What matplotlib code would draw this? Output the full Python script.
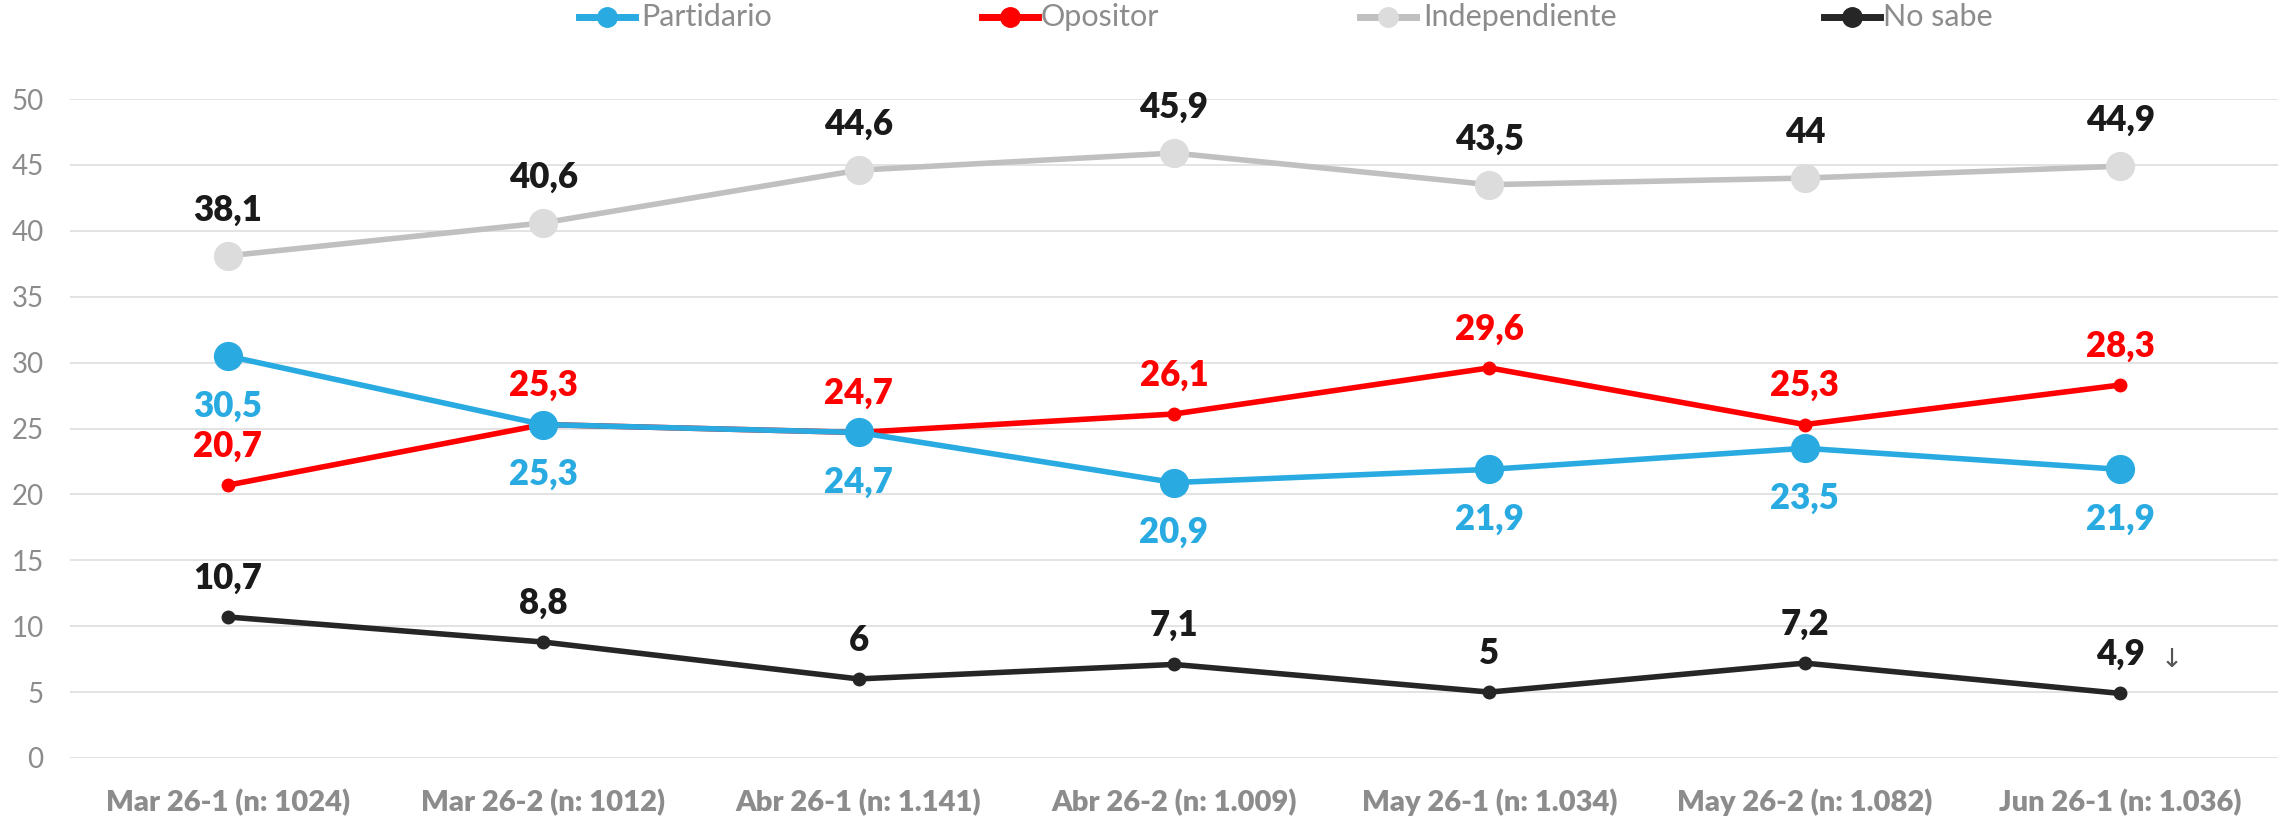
import matplotlib
matplotlib.use("Agg")
import matplotlib.pyplot as plt
from matplotlib.lines import Line2D

plt.rcParams['font.family'] = ['Lato', 'DejaVu Sans']

# Datos por medición
categorias = ['Mar 26-1 (n: 1024)', 'Mar 26-2 (n: 1012)', 'Abr 26-1 (n: 1.141)',
              'Abr 26-2 (n: 1.009)', 'May 26-1 (n: 1.034)', 'May 26-2 (n: 1.082)',
              'Jun 26-1 (n: 1.036)']
partidario = [30.5, 25.3, 24.7, 20.9, 21.9, 23.5, 21.9]
opositor = [20.7, 25.3, 24.7, 26.1, 29.6, 25.3, 28.3]
independiente = [38.1, 40.6, 44.6, 45.9, 43.5, 44, 44.9]
no_sabe = [10.7, 8.8, 6, 7.1, 5, 7.2, 4.9]
y_ticks = [0, 5, 10, 15, 20, 25, 30, 35, 40, 45, 50]

AZUL = '#29abe2'
ROJO = '#ff0000'
GRIS_LINEA = '#c0c0c0'
GRIS_MARCA = '#dcdcdc'
NEGRO = '#262626'
GRIS_TEXTO = '#8c8c8c'

fig = plt.figure(figsize=(22.9, 8.16), dpi=100)
ax = fig.add_axes([70 / 2290, 1 - 758 / 816, 2208 / 2290, 659 / 816])

x = list(range(len(categorias)))


def fmt(v):
    s = ('%.1f' % v).rstrip('0').rstrip('.')
    return s.replace('.', ',')


# (valores, color línea, color marca, tamaño marca, color etiqueta, desplazamiento)
series = [
    ('Independiente', independiente, GRIS_LINEA, GRIS_MARCA, 20, '#1a1a1a', 33),
    ('No sabe', no_sabe, NEGRO, NEGRO, 9, '#1a1a1a', 28),
    ('Opositor', opositor, ROJO, ROJO, 9, ROJO, 28),
    ('Partidario', partidario, AZUL, AZUL, 20, AZUL, -36),
]

for i, (nombre, vals, c_lin, c_mar, ms, c_lab, dy) in enumerate(series):
    ax.plot(x, vals, color=c_lin, lw=4, marker='o', markersize=ms,
            markerfacecolor=c_mar, markeredgecolor=c_mar, zorder=3 + i,
            solid_capstyle='round')
    for xi, v in zip(x, vals):
        ax.annotate(fmt(v), (xi, v), xytext=(0, dy), textcoords='offset points',
                    ha='center', va='center', fontsize=25, fontweight='heavy',
                    color=c_lab, zorder=10)

# flecha junto al último valor de "No sabe"
ax.annotate('↓', (x[-1], no_sabe[-1]), xytext=(37, 24), textcoords='offset points',
            ha='center', va='center', fontsize=19, color='#555555',
            family=['DejaVu Sans'])

ax.set_xlim(-0.5, len(categorias) - 0.5)
ax.set_ylim(0, 50)
ax.set_yticks(y_ticks)
ax.set_xticks(x)
ax.set_xticklabels(categorias, fontsize=21, fontweight='heavy', color=GRIS_TEXTO)
ax.tick_params(axis='x', length=0, pad=22)
ax.tick_params(axis='y', length=0, pad=19, labelsize=20, labelcolor=GRIS_TEXTO)
ax.grid(axis='y', color='#e3e3e3', lw=1.4)
ax.set_axisbelow(True)
for sp in ax.spines.values():
    sp.set_visible(False)

# leyenda superior
leyenda = [('Partidario', AZUL, AZUL, 607, 641),
           ('Opositor', ROJO, ROJO, 1010, 1041),
           ('Independiente', GRIS_LINEA, GRIS_MARCA, 1388, 1423),
           ('No sabe', NEGRO, NEGRO, 1852, 1883)]
yl = 1 - 17 / 816
for nombre, c_lin, c_mar, xm, xt in leyenda:
    fig.add_artist(Line2D([(xm - 28) / 2290, (xm + 28) / 2290], [yl, yl],
                          transform=fig.transFigure, color=c_lin, lw=5))
    fig.add_artist(Line2D([xm / 2290], [yl], transform=fig.transFigure,
                          marker='o', markersize=14, color=c_mar, lw=0))
    fig.text(xt / 2290, yl, nombre, ha='left', va='center', fontsize=22,
             color=GRIS_TEXTO)

fig.savefig('out.png', dpi=100)
